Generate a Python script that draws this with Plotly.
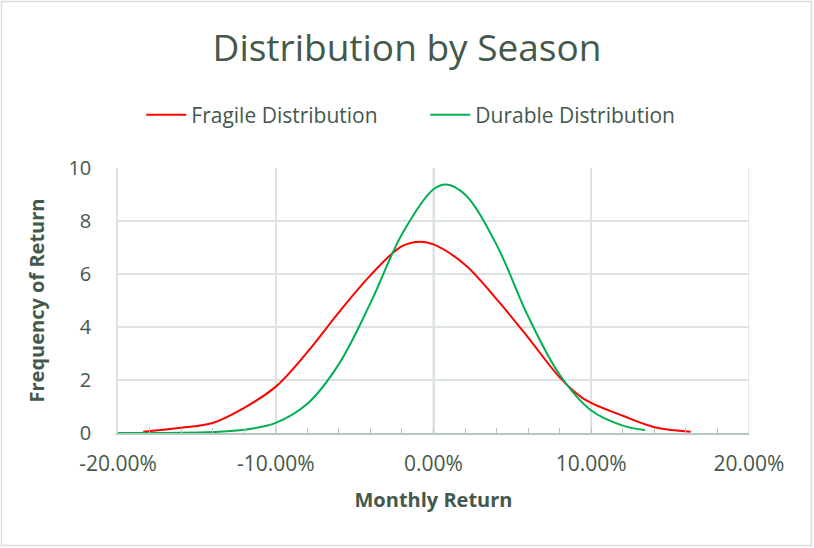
import plotly.graph_objects as go

# Monthly return (%) and frequency for each distribution
fragile_x = [-18.4, -16, -14, -12, -10, -8, -6, -4, -2, -0.8, 0, 2, 4, 6, 8, 9.5, 12, 14, 16.3]
fragile_y = [0.05, 0.2, 0.38, 0.95, 1.75, 3.05, 4.55, 5.95, 7.05, 7.22, 7.12, 6.35, 5.05, 3.6, 2.1, 1.3, 0.65, 0.22, 0.05]

durable_x = [-20, -18, -16, -14, -12, -10, -8, -6, -4, -2, 0, 0.8, 2, 4, 6, 8, 10, 12, 13.4]
durable_y = [0.0, 0.003, 0.01, 0.04, 0.12, 0.38, 1.1, 2.6, 4.9, 7.5, 9.2, 9.38, 9.0, 7.1, 4.4, 2.2, 0.85, 0.28, 0.11]

x_ticks = [-20, -10, 0, 10, 20]
x_tick_labels = ["-20.00%", "-10.00%", "0.00%", "10.00%", "20.00%"]
y_ticks = [0, 2, 4, 6, 8, 10]

TEXT = "#44584B"
GRID = "#DDE3E0"
AXIS = "#B7C8C0"
FONT = "Open Sans"

fig = go.Figure()
fig.add_trace(go.Scatter(
    x=fragile_x, y=fragile_y, mode="lines", name="Fragile Distribution",
    line=dict(color="#FF0000", width=2, shape="spline", smoothing=1.0),
))
fig.add_trace(go.Scatter(
    x=durable_x, y=durable_y, mode="lines", name="Durable Distribution",
    line=dict(color="#00B050", width=2, shape="spline", smoothing=1.0),
))

# darker vertical line where the value axis crosses at 0%
fig.add_shape(type="line", xref="x", yref="y", x0=0, x1=0, y0=0, y1=10,
              line=dict(color=AXIS, width=1.5), layer="below")

L, R, T, B = 118, 65, 168, 115
W, H = 814, 548
pw, ph = W - L - R, H - T - B
# outer chart border
fig.add_shape(type="rect", xref="paper", yref="paper",
              x0=(1.5 - L) / pw, x1=(W - 2.5 - L) / pw,
              y0=-(B - 2.5) / ph, y1=1 + (T - 1.5) / ph,
              line=dict(color="#D9DCDB", width=1.5))

fig.update_layout(
    width=W, height=H,
    margin=dict(l=L, r=R, t=T, b=B),
    paper_bgcolor="white", plot_bgcolor="white",
    font=dict(family=FONT, color=TEXT, size=20),
    title=dict(text="Distribution by Season", x=0.5, xanchor="center",
               y=1 - 48 / H, yanchor="middle",
               font=dict(family=FONT, size=37, color=TEXT)),
    legend=dict(orientation="h", x=0.487, xanchor="center",
                y=1 + (168 - 115) / ph, yanchor="middle",
                font=dict(family=FONT, size=21, color=TEXT),
                entrywidth=229, itemwidth=40, bgcolor="rgba(0,0,0,0)"),
    showlegend=True,
)

fig.update_xaxes(
    range=[-20, 20], tickvals=x_ticks, ticktext=x_tick_labels,
    showgrid=True, gridcolor=GRID, gridwidth=1.5,
    zeroline=False, showline=True, linecolor=AXIS, linewidth=1.5,
    ticks="inside", ticklen=5, tickcolor=AXIS,
    minor=dict(dtick=2, ticks="inside", ticklen=5, tickcolor=AXIS, showgrid=False),
    ticklabelstandoff=11,
    tickfont=dict(family=FONT, size=21, color=TEXT),
    title=dict(text="<b>Monthly Return</b>", standoff=17,
               font=dict(family=FONT, size=20, color=TEXT)),
    mirror=False,
)
fig.update_yaxes(
    range=[0, 10], tickvals=y_ticks,
    showgrid=True, gridcolor=GRID, gridwidth=1.5,
    zeroline=False, showline=True, linecolor=GRID, linewidth=1.5,
    ticks="", ticklabelstandoff=21,
    tickfont=dict(family=FONT, size=20, color=TEXT),
    title=dict(text="<b>Frequency of Return</b>", standoff=18,
               font=dict(family=FONT, size=20, color=TEXT)),
)
# right-hand border of the plot area at 20%
fig.add_shape(type="line", xref="x", yref="y", x0=20, x1=20, y0=0, y1=10,
              line=dict(color=GRID, width=1.5), layer="below")

fig.write_html("out.html")
